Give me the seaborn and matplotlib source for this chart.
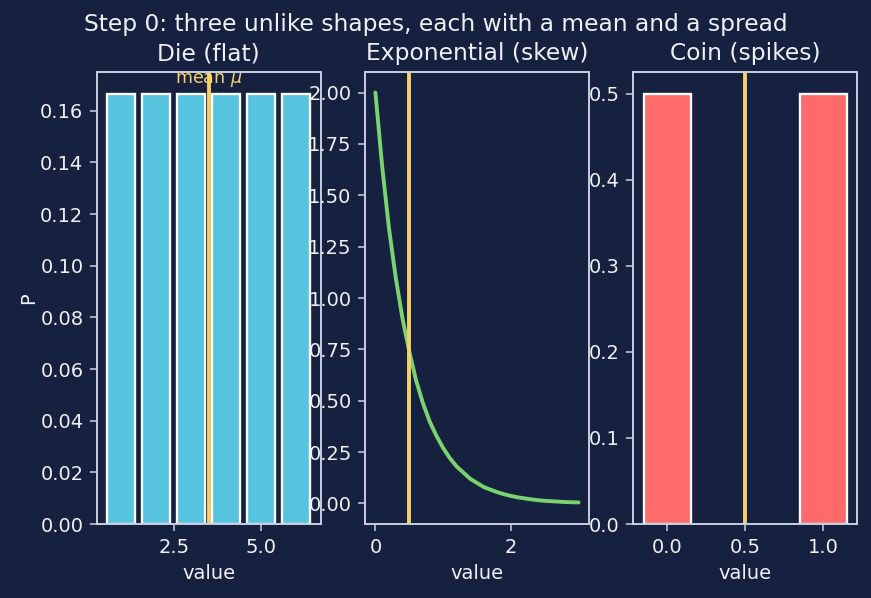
import numpy as np
import pandas as pd
import seaborn as sns
import matplotlib
matplotlib.use("Agg")
import matplotlib.pyplot as plt

# die: flat distribution
die_faces = [1, 2, 3, 4, 5, 6]
die_probs = [1 / 6] * 6
die_mean = 3.5

# exponential density, every 0.1
exp_x = [0.0, 0.1, 0.2, 0.3, 0.4, 0.5, 0.6, 0.7, 0.8, 0.9, 1.0,
         1.1, 1.2, 1.3, 1.4, 1.5, 1.6, 1.7, 1.8, 1.9, 2.0,
         2.1, 2.2, 2.3, 2.4, 2.5, 2.6, 2.7, 2.8, 2.9, 3.0]
exp_y = [2.00, 1.64, 1.34, 1.10, 0.90, 0.74, 0.60, 0.49, 0.40, 0.33, 0.27,
         0.22, 0.18, 0.15, 0.12, 0.10, 0.08, 0.067, 0.055, 0.045, 0.037,
         0.030, 0.025, 0.020, 0.016, 0.013, 0.011, 0.009, 0.007, 0.006, 0.005]
exp_mean = 0.5

# coin: two spikes
coin_faces = [0, 1]
coin_probs = [0.5, 0.5]
coin_mean = 0.5

bg = "#16203f"
fg = "#eef0f6"
spine = "#c8cee2"
cyan = "#56c4de"
green = "#7bd36f"
red = "#ff6b6b"
gold = "#f5d06b"

sns.set_style("dark")
plt.rcParams.update({
    "figure.facecolor": bg,
    "axes.facecolor": bg,
    "axes.edgecolor": spine,
    "axes.labelcolor": fg,
    "text.color": fg,
    "xtick.color": spine,
    "ytick.color": spine,
    "xtick.labelcolor": fg,
    "ytick.labelcolor": fg,
    "xtick.bottom": True,
    "ytick.left": True,
    "axes.grid": False,
    "font.size": 10,
})
plt.rcParams["font.family"] = ["DejaVu Sans"]

fig, axes = plt.subplots(1, 3, figsize=(871 / 140, 598 / 140), dpi=140)
fig.subplots_adjust(left=0.1114, right=0.9839, top=0.8796, bottom=0.1237, wspace=0.2)

# die
ax = axes[0]
df_die = pd.DataFrame({"value": die_faces, "P": die_probs})
sns.barplot(data=df_die, x="value", y="P", native_scale=True, width=0.8,
            color=cyan, saturation=1, edgecolor="white", linewidth=1.2,
            errorbar=None, ax=ax)
ax.axvline(die_mean, color=gold, lw=2)
ax.text(die_mean, 0.1685, r"mean $\mu$", color=gold, ha="center", va="bottom", fontsize=9)
ax.set_xlim(0.31, 6.69)
ax.set_ylim(0, 0.175)
ax.set_title("Die (flat)", fontsize=12)
ax.set_xlabel("value")
ax.set_ylabel("P", labelpad=1)

# exponential
ax = axes[1]
df_exp = pd.DataFrame({"value": exp_x, "density": exp_y})
sns.lineplot(data=df_exp, x="value", y="density", color=green, lw=2, ax=ax)
ax.axvline(exp_mean, color=gold, lw=2)
ax.set_xlim(-0.15, 3.15)
ax.set_ylim(-0.1, 2.1)
ax.set_xticks([0, 2])
ax.set_title("Exponential (skew)", fontsize=12)
ax.set_xlabel("value")
ax.set_ylabel("")

# coin
ax = axes[2]
df_coin = pd.DataFrame({"value": coin_faces, "P": coin_probs})
sns.barplot(data=df_coin, x="value", y="P", native_scale=True, width=0.3,
            color=red, saturation=1, edgecolor="white", linewidth=1.2,
            errorbar=None, ax=ax)
ax.axvline(coin_mean, color=gold, lw=2)
ax.set_xlim(-0.215, 1.215)
ax.set_ylim(0, 0.525)
ax.set_xticks([0.0, 0.5, 1.0])
ax.set_title("Coin (spikes)", fontsize=12)
ax.set_xlabel("value")
ax.set_ylabel("")

for a in axes:
    for s in a.spines.values():
        s.set_color(spine)
        s.set_linewidth(1.0)

fig.suptitle("Step 0: three unlike shapes, each with a mean and a spread", fontsize=12, y=0.978)

fig.savefig("out.png", dpi=140, facecolor=bg)
